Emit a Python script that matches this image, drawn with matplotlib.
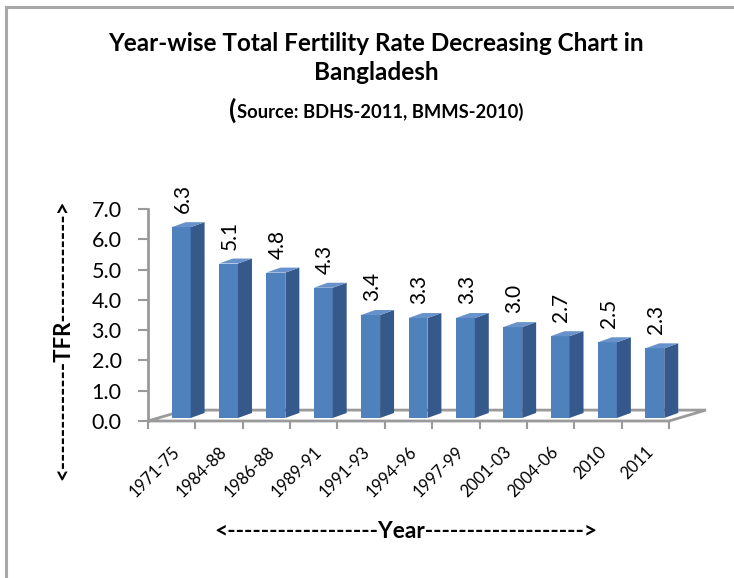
import matplotlib
matplotlib.use("Agg")
import matplotlib.pyplot as plt
from matplotlib.patches import Polygon
from matplotlib.lines import Line2D

categories = ["1971-75", "1984-88", "1986-88", "1989-91", "1991-93", "1994-96",
              "1997-99", "2001-03", "2004-06", "2010", "2011"]
tfr = [6.3, 5.1, 4.8, 4.3, 3.4, 3.3, 3.3, 3.0, 2.7, 2.5, 2.3]
yticks = [0.0, 1.0, 2.0, 3.0, 4.0, 5.0, 6.0, 7.0]

title = "Year-wise Total Fertility Rate Decreasing Chart in\nBangladesh"
subtitle = "Source: BDHS-2011, BMMS-2010)"
ylabel = "<" + "-" * 13 + "TFR" + "-" * 13 + ">"
xlabel = "<" + "-" * 18 + "Year" + "-" * 19 + ">"

FONT = "Lato"
W, H = 734, 578
fig = plt.figure(figsize=(W / 100, H / 100), dpi=100)

# axes placed in pixel terms
x0, x1 = 148, 669
y0, y1 = 421, 209
ax = fig.add_axes([x0 / W, 1 - y0 / H, (x1 - x0) / W, (y0 - y1) / H])
n = len(categories)
ax.set_xlim(-0.5, n - 0.5)
ax.set_ylim(0, 7)

front_c = "#4F81BD"
side_c = "#35598A"
top_c = "#6892CB"
grey = "#9A9A9A"

# floor
fdx, fdy = 0.78, 0.36
floor = Polygon([(-0.5, 0), (n - 0.5, 0), (n - 0.5 + fdx, fdy), (-0.5 + fdx, fdy)],
                closed=True, facecolor="white", edgecolor=grey, lw=2,
                clip_on=False, zorder=1)
ax.add_patch(floor)

# bars
bw = 0.40
bdx, bdy = 0.295, 0.165
base = 0.1
for i, v in enumerate(tfr):
    xl = i + 0.0
    xr = xl + bw
    b = base
    t = base + v
    front = Polygon([(xl, b), (xr, b), (xr, t), (xl, t)], closed=True,
                    facecolor=front_c, edgecolor="none", clip_on=False, zorder=3)
    side = Polygon([(xr, b), (xr + bdx, b + bdy), (xr + bdx, t + bdy), (xr, t)],
                   closed=True, facecolor=side_c, edgecolor="none",
                   clip_on=False, zorder=3)
    top = Polygon([(xl, t), (xr, t), (xr + bdx, t + bdy), (xl + bdx, t + bdy)],
                  closed=True, facecolor=top_c, edgecolor="none",
                  clip_on=False, zorder=3)
    for p in (front, side, top):
        ax.add_patch(p)
    ax.annotate(f"{v:.1f}", xy=(xl + bw / 2 + 0.03, t + bdy), xytext=(0, 9),
                textcoords="offset pixels", rotation=90, ha="center", va="bottom",
                fontsize=15, family=FONT, clip_on=False, zorder=4)

# axes styling
for s in ("top", "right", "bottom"):
    ax.spines[s].set_visible(False)
ax.spines["left"].set_color(grey)
ax.spines["left"].set_linewidth(2)
ax.spines["left"].set_zorder(2)
ax.set_yticks(yticks)
ax.set_yticklabels([f"{t:.1f}" for t in yticks], family=FONT, fontsize=15.5)
ax.tick_params(axis="y", length=7, width=1.5, color=grey, pad=12)

bounds = [k - 0.5 for k in range(n + 1)]
ax.set_xticks(bounds)
ax.set_xticklabels([""] * len(bounds))
ax.tick_params(axis="x", which="major", length=6, width=1.5, color=grey)
ax.set_xticks(range(n), minor=True)
ax.set_xticklabels(categories, minor=True, rotation=45, ha="right",
                   rotation_mode="anchor", family=FONT, fontsize=12)
ax.tick_params(axis="x", which="minor", length=0, pad=16)
ax.patch.set_visible(False)

# titles
fig.text(376 / W, 1 - 58 / H, title, ha="center", va="center", family=FONT,
         fontweight="bold", fontsize=17.5, linespacing=1.3)
fig.text(236 / W, 1 - 110 / H, "(", ha="right", va="center", family=FONT,
         fontweight="bold", fontsize=19)
fig.text(237 / W, 1 - 112 / H, subtitle, ha="left", va="center", family=FONT,
         fontweight="bold", fontsize=13.2)

fig.text(63 / W, 1 - 340 / H, ylabel, rotation=90, ha="center", va="center",
         family=FONT, fontweight="bold", fontsize=16)
fig.text(406 / W, 1 - 531 / H, xlabel, ha="center", va="center",
         family=FONT, fontweight="bold", fontsize=16.4)

# frame border
fig.add_artist(Line2D([6 / W, 6 / W], [0, 1 - 7 / H], transform=fig.transFigure,
                      color="#A8A8A8", lw=2.2))
fig.add_artist(Line2D([6 / W, 1], [1 - 7 / H, 1 - 7 / H], transform=fig.transFigure,
                      color="#A8A8A8", lw=2.2))

fig.savefig("out.png", dpi=100)
